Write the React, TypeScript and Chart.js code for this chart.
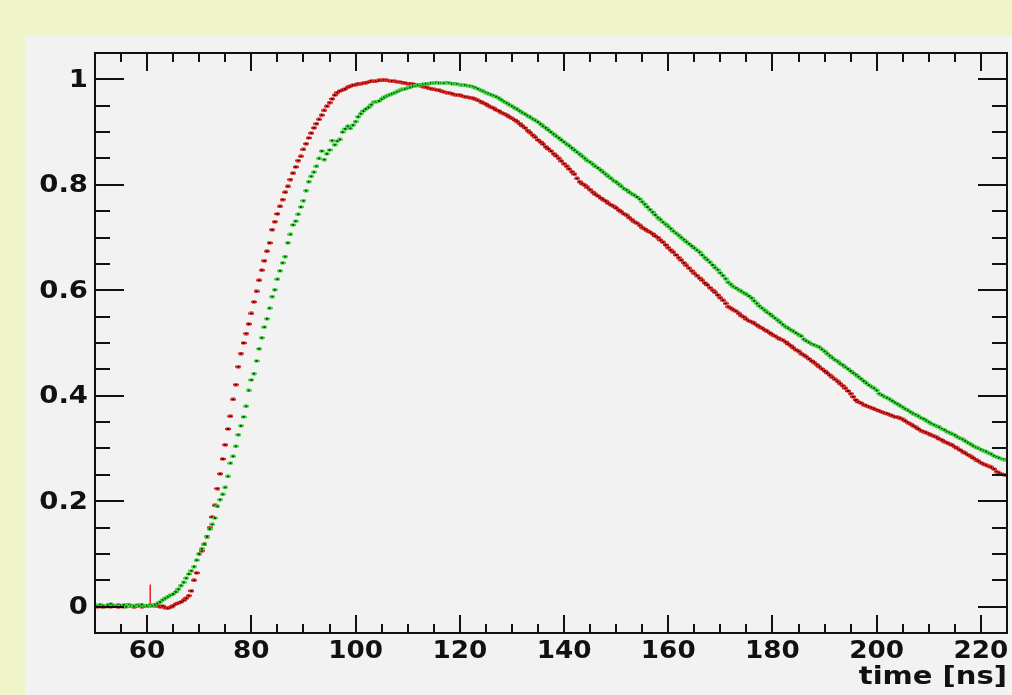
import React, { useEffect, useRef } from "react";
import { Chart, registerables } from "chart.js";

Chart.register(...registerables);

// Sampling of both pulse traces (ns)
const timeStart = 50;
const timeStep = 0.5;

// Red trace (rows of 5 ns, 0.5 ns step, starting at 50, 55, ... 220; last value at 225)
const redValues: number[] = [
  0.001, 0.000, 0.002, -0.001, 0.001, 0.003, 0.000, 0.002, 0.001, -0.001,
  0.002, 0.000, 0.003, 0.001, 0.002, -0.001, 0.001, 0.003, 0.000, 0.002,
  0.001, 0.002, 0.003, 0.001, 0.002, 0.000, 0.001, -0.002, -0.003, -0.001,
  0.002, 0.005, 0.007, 0.009, 0.012, 0.016, 0.021, 0.030, 0.050, 0.064,
  0.100, 0.106, 0.118, 0.133, 0.150, 0.170, 0.192, 0.224, 0.252, 0.280,
  0.307, 0.337, 0.361, 0.393, 0.421, 0.455, 0.480, 0.500, 0.518, 0.536,
  0.556, 0.578, 0.598, 0.619, 0.638, 0.656, 0.674, 0.690, 0.715, 0.730,
  0.745, 0.759, 0.772, 0.786, 0.797, 0.810, 0.822, 0.834, 0.846, 0.854,
  0.867, 0.878, 0.889, 0.898, 0.908, 0.916, 0.924, 0.932, 0.941, 0.949,
  0.956, 0.963, 0.970, 0.975, 0.978, 0.980, 0.982, 0.985, 0.987, 0.989,
  0.990, 0.992, 0.992, 0.993, 0.994, 0.995, 0.997, 0.996, 0.997, 0.998,
  0.998, 0.999, 0.998, 0.997, 0.997, 0.996, 0.995, 0.995, 0.994, 0.993,
  0.992, 0.992, 0.991, 0.990, 0.989, 0.988, 0.986, 0.985, 0.983, 0.982,
  0.981, 0.980, 0.979, 0.977, 0.976, 0.975, 0.974, 0.973, 0.971, 0.970,
  0.970, 0.968, 0.967, 0.966, 0.965, 0.964, 0.962, 0.960, 0.958, 0.955,
  0.953, 0.950, 0.947, 0.945, 0.942, 0.940, 0.937, 0.935, 0.932, 0.929,
  0.926, 0.923, 0.920, 0.916, 0.912, 0.908, 0.903, 0.899, 0.894, 0.890,
  0.885, 0.881, 0.877, 0.872, 0.868, 0.864, 0.859, 0.855, 0.850, 0.845,
  0.840, 0.835, 0.830, 0.825, 0.820, 0.812, 0.806, 0.802, 0.799, 0.795,
  0.791, 0.786, 0.782, 0.779, 0.775, 0.772, 0.769, 0.765, 0.762, 0.759,
  0.756, 0.752, 0.749, 0.745, 0.742, 0.738, 0.734, 0.730, 0.727, 0.723,
  0.719, 0.716, 0.713, 0.710, 0.707, 0.703, 0.700, 0.695, 0.691, 0.686,
  0.681, 0.676, 0.672, 0.667, 0.662, 0.657, 0.652, 0.647, 0.642, 0.637,
  0.632, 0.628, 0.623, 0.619, 0.614, 0.610, 0.605, 0.600, 0.596, 0.591,
  0.586, 0.581, 0.575, 0.569, 0.566, 0.563, 0.560, 0.556, 0.552, 0.549,
  0.545, 0.542, 0.540, 0.537, 0.534, 0.531, 0.528, 0.525, 0.522, 0.519,
  0.516, 0.513, 0.510, 0.507, 0.505, 0.502, 0.498, 0.495, 0.491, 0.487,
  0.484, 0.480, 0.477, 0.474, 0.470, 0.466, 0.463, 0.459, 0.455, 0.451,
  0.447, 0.443, 0.439, 0.435, 0.431, 0.427, 0.423, 0.419, 0.414, 0.409,
  0.404, 0.398, 0.392, 0.388, 0.386, 0.383, 0.381, 0.379, 0.377, 0.375,
  0.373, 0.371, 0.369, 0.367, 0.366, 0.364, 0.362, 0.360, 0.359, 0.357,
  0.355, 0.352, 0.349, 0.346, 0.343, 0.340, 0.337, 0.334, 0.332, 0.330,
  0.328, 0.325, 0.323, 0.321, 0.318, 0.316, 0.313, 0.311, 0.308, 0.306,
  0.303, 0.300, 0.297, 0.294, 0.291, 0.288, 0.285, 0.282, 0.279, 0.276,
  0.273, 0.270, 0.268, 0.266, 0.264, 0.261, 0.256, 0.253, 0.251, 0.250,
  0.249,
];

// Green trace (same sampling)
const greenValues: number[] = [
  0.003, 0.001, 0.004, 0.002, 0.000, 0.003, 0.005, 0.002, 0.001, 0.004,
  0.002, 0.003, 0.000, 0.004, 0.002, 0.001, 0.003, 0.002, 0.004, 0.001,
  0.002, 0.003, 0.002, 0.004, 0.006, 0.009, 0.013, 0.016, 0.019, 0.022,
  0.024, 0.028, 0.033, 0.040, 0.046, 0.054, 0.062, 0.068, 0.076, 0.088,
  0.100, 0.110, 0.119, 0.133, 0.147, 0.156, 0.168, 0.190, 0.203, 0.213,
  0.226, 0.247, 0.272, 0.285, 0.304, 0.326, 0.343, 0.360, 0.380, 0.410,
  0.430, 0.442, 0.466, 0.489, 0.510, 0.530, 0.546, 0.566, 0.588, 0.601,
  0.621, 0.637, 0.652, 0.664, 0.690, 0.706, 0.724, 0.731, 0.744, 0.758,
  0.770, 0.789, 0.806, 0.816, 0.824, 0.835, 0.850, 0.864, 0.848, 0.859,
  0.866, 0.884, 0.876, 0.883, 0.886, 0.900, 0.906, 0.911, 0.907, 0.913,
  0.920, 0.929, 0.935, 0.940, 0.944, 0.947, 0.952, 0.957, 0.958, 0.959,
  0.963, 0.966, 0.969, 0.971, 0.973, 0.975, 0.977, 0.979, 0.981, 0.982,
  0.984, 0.985, 0.987, 0.988, 0.989, 0.990, 0.991, 0.992, 0.992, 0.993,
  0.993, 0.994, 0.993, 0.993, 0.993, 0.994, 0.993, 0.992, 0.992, 0.991,
  0.990, 0.989, 0.989, 0.988, 0.987, 0.986, 0.984, 0.982, 0.979, 0.977,
  0.975, 0.973, 0.971, 0.969, 0.967, 0.964, 0.961, 0.958, 0.955, 0.952,
  0.949, 0.946, 0.943, 0.940, 0.937, 0.934, 0.931, 0.928, 0.925, 0.922,
  0.919, 0.915, 0.911, 0.908, 0.904, 0.900, 0.896, 0.892, 0.889, 0.885,
  0.881, 0.877, 0.874, 0.870, 0.866, 0.862, 0.858, 0.854, 0.850, 0.846,
  0.843, 0.839, 0.835, 0.832, 0.828, 0.824, 0.820, 0.816, 0.812, 0.808,
  0.805, 0.801, 0.797, 0.793, 0.790, 0.786, 0.783, 0.780, 0.777, 0.773,
  0.768, 0.763, 0.758, 0.753, 0.748, 0.743, 0.738, 0.734, 0.729, 0.725,
  0.721, 0.717, 0.712, 0.708, 0.704, 0.700, 0.696, 0.692, 0.688, 0.684,
  0.680, 0.676, 0.672, 0.667, 0.662, 0.658, 0.653, 0.648, 0.643, 0.639,
  0.633, 0.628, 0.622, 0.615, 0.611, 0.607, 0.604, 0.601, 0.598, 0.595,
  0.592, 0.589, 0.585, 0.580, 0.575, 0.570, 0.566, 0.562, 0.558, 0.555,
  0.551, 0.547, 0.543, 0.539, 0.535, 0.531, 0.528, 0.525, 0.522, 0.519,
  0.516, 0.513, 0.507, 0.504, 0.501, 0.498, 0.496, 0.494, 0.492, 0.488,
  0.484, 0.480, 0.476, 0.472, 0.468, 0.465, 0.461, 0.458, 0.454, 0.451,
  0.447, 0.443, 0.440, 0.436, 0.432, 0.428, 0.424, 0.420, 0.417, 0.414,
  0.410, 0.404, 0.401, 0.398, 0.396, 0.393, 0.390, 0.387, 0.384, 0.381,
  0.378, 0.375, 0.372, 0.369, 0.366, 0.364, 0.361, 0.358, 0.356, 0.353,
  0.350, 0.347, 0.345, 0.342, 0.340, 0.337, 0.335, 0.332, 0.330, 0.327,
  0.325, 0.322, 0.319, 0.317, 0.314, 0.311, 0.308, 0.305, 0.302, 0.300,
  0.298, 0.296, 0.294, 0.291, 0.289, 0.286, 0.284, 0.282, 0.280, 0.279,
  0.278,
];

// Large error bar on one red sample
const redErrorTime = 60.6;
const redErrorLow = 0.0;
const redErrorHigh = 0.042;

// Axes
const xMin = 50;
const xMax = 225;
const yMin = -0.05;
const yMax = 1.05;
const xMajorTicks = [60, 80, 100, 120, 140, 160, 180, 200, 220];
const xMajorLabels = ["60", "80", "100", "120", "140", "160", "180", "200", "220"];
const xMinorStep = 5;
const yMajorTicks = [0, 0.2, 0.4, 0.6, 0.8, 1];
const yMajorLabels = ["0", "0.2", "0.4", "0.6", "0.8", "1"];
const yMinorStep = 0.05;
const xAxisTitle = "time [ns]";

function makeMarker(fill: string, core: string): HTMLCanvasElement {
  const c = document.createElement("canvas");
  c.width = 6;
  c.height = 4;
  const g = c.getContext("2d")!;
  g.fillStyle = fill;
  g.globalAlpha = 0.55;
  g.fillRect(1, 0, 4, 4);
  g.globalAlpha = 1;
  g.fillRect(0, 1, 6, 2);
  g.fillStyle = core;
  g.fillRect(2, 1, 2, 2);
  return c;
}

function stretchedText(ctx: CanvasRenderingContext2D, text: string, x: number, y: number, sx: number) {
  ctx.save();
  ctx.translate(x, y);
  ctx.scale(sx, 1);
  ctx.fillText(text, 0, 0);
  ctx.restore();
}

const rootFramePlugin = {
  id: "rootFrame",
  beforeDraw(chart: any) {
    const { ctx, width, height } = chart;
    ctx.save();
    ctx.fillStyle = "#eff4c9";
    ctx.fillRect(0, 0, width, height);
    ctx.fillStyle = "#f2f2f2";
    ctx.fillRect(25, 35, width - 25, height - 35);
    ctx.restore();
  },
  afterDatasetsDraw(chart: any) {
    const { ctx, chartArea } = chart;
    const xs = chart.scales.x;
    const ys = chart.scales.y;
    const { left, right, top, bottom } = chartArea;
    ctx.save();
    ctx.strokeStyle = "#111";
    ctx.lineWidth = 2;
    ctx.beginPath();
    const xMinorCount = Math.round((xMax - xMin) / xMinorStep);
    for (let i = 0; i <= xMinorCount; i++) {
      const v = xMin + i * xMinorStep;
      const major = xMajorTicks.some((m) => Math.abs(m - v) < 1e-6);
      const len = major ? 18 : 9;
      const px = Math.round(xs.getPixelForValue(v));
      ctx.moveTo(px, bottom);
      ctx.lineTo(px, bottom - len);
      ctx.moveTo(px, top);
      ctx.lineTo(px, top + len);
    }
    const yMinorCount = Math.round((yMax - yMin) / yMinorStep);
    for (let i = 0; i <= yMinorCount; i++) {
      const v = yMin + i * yMinorStep;
      const major = yMajorTicks.some((m) => Math.abs(m - v) < 1e-6);
      const len = major ? 29 : 15;
      const py = Math.round(ys.getPixelForValue(v));
      ctx.moveTo(left, py);
      ctx.lineTo(left + len, py);
      ctx.moveTo(right, py);
      ctx.lineTo(right - len, py);
    }
    ctx.stroke();
    ctx.strokeRect(left, top, right - left, bottom - top);

    ctx.fillStyle = "#111";
    ctx.font = 'bold 25px "DejaVu Sans"';
    ctx.textAlign = "right";
    ctx.textBaseline = "middle";
    yMajorTicks.forEach((v, i) => {
      stretchedText(ctx, yMajorLabels[i], left - 7, ys.getPixelForValue(v) + 1, 1.1);
    });
    ctx.textAlign = "center";
    ctx.textBaseline = "top";
    xMajorTicks.forEach((v, i) => {
      stretchedText(ctx, xMajorLabels[i], xs.getPixelForValue(v), bottom + 6, 1.05);
    });
    ctx.textAlign = "right";
    ctx.textBaseline = "alphabetic";
    stretchedText(ctx, xAxisTitle, right, bottom + 51, 1.16);
    ctx.restore();
  },
};

export default function App() {
  const ref = useRef<HTMLCanvasElement | null>(null);

  useEffect(() => {
    const canvas = ref.current;
    if (!canvas) return;
    const redPts = redValues.map((y, i) => ({ x: timeStart + i * timeStep, y }));
    const greenPts = greenValues.map((y, i) => ({ x: timeStart + i * timeStep, y }));
    const redMarker = makeMarker("rgb(230,35,35)", "rgb(70,0,0)");
    const greenMarker = makeMarker("rgb(60,215,60)", "rgb(0,70,0)");

    const chart = new Chart(canvas, {
      type: "scatter",
      data: {
        datasets: [
          {
            label: "green",
            data: greenPts,
            pointStyle: greenMarker as any,
            pointRadius: 3,
            showLine: false,
          },
          {
            label: "red",
            data: redPts,
            pointStyle: redMarker as any,
            pointRadius: 3,
            showLine: false,
          },
          {
            label: "red error",
            data: [
              { x: redErrorTime, y: redErrorLow },
              { x: redErrorTime, y: redErrorHigh },
            ],
            showLine: true,
            borderColor: "rgb(230,35,35)",
            borderWidth: 1.5,
            pointRadius: 0,
          },
        ],
      },
      options: {
        animation: false,
        responsive: false,
        events: [],
        layout: { padding: { left: 95, top: 53, right: 3, bottom: 62 } },
        plugins: {
          legend: { display: false },
          tooltip: { enabled: false },
        },
        scales: {
          x: { type: "linear", min: xMin, max: xMax, display: false },
          y: { type: "linear", min: yMin, max: yMax, display: false },
        },
      },
      plugins: [rootFramePlugin],
    });
    return () => chart.destroy();
  }, []);

  return (
    <div style={{ position: "fixed", left: 0, top: 0, width: 1012, height: 695 }}>
      <canvas ref={ref} width={1012} height={695} style={{ display: "block" }} />
    </div>
  );
}
